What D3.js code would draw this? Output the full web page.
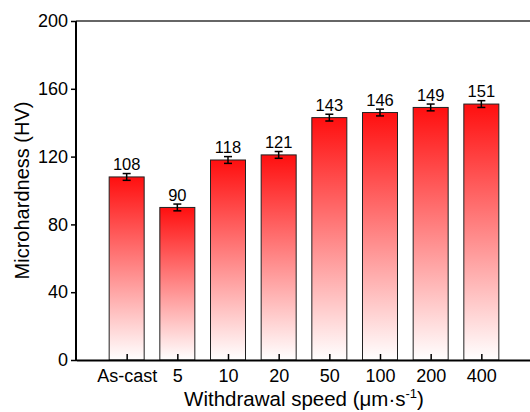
<!DOCTYPE html>
<html>
<head>
<meta charset="utf-8">
<script src="https://cdn.jsdelivr.net/npm/d3@7"></script>
<style>
	body { margin: 0; background: #fff; }
	text { font-family: "Liberation Sans", Arial, sans-serif; fill: #000; }
</style>
</head>
<body>
<script>
"use strict";

//chart data
let categories = ["As-cast", "5", "10", "20", "50", "100", "200", "400"];
let hardness = [108, 90, 118, 121, 143, 146, 149, 151];
let errors = [2, 2, 2, 2, 2, 2, 2, 2];
let y_ticks = [0, 40, 80, 120, 160, 200];

(function()
{
	let width = 530, height = 412;
	let plot_l = 76, plot_r = 532, plot_t = 21, plot_b = 360;

	let svg = d3.select("body").append("svg")
		.attr("width", width)
		.attr("height", height);

	let defs = svg.append("defs");
	let grad = defs.append("linearGradient")
		.attr("id", "bar_grad")
		.attr("x1", 0).attr("y1", 0)
		.attr("x2", 0).attr("y2", 1);
	grad.append("stop").attr("offset", "0%").attr("stop-color", "#ff0f0f");
	grad.append("stop").attr("offset", "100%").attr("stop-color", "#ffffff");

	//scales, categories sit at 1..8 on a 0..9 axis
	let x = d3.scaleLinear().domain([0, categories.length + 1]).range([plot_l, plot_r]);
	let y = d3.scaleLinear().domain([0, 200]).range([plot_b, plot_t]);
	let bar_w = 35;

	//bars
	svg.append("g").selectAll("rect")
		.data(hardness)
		.join("rect")
		.attr("x", (d, i) => x(i + 1) - bar_w / 2)
		.attr("y", d => y(d))
		.attr("width", bar_w)
		.attr("height", d => y(0) - y(d))
		.attr("fill", "url(#bar_grad)")
		.attr("stroke", "#222")
		.attr("stroke-width", 1);

	//error bars
	let err = svg.append("g")
		.attr("stroke", "#000")
		.attr("stroke-width", 1.5);
	hardness.forEach(function(d, i)
	{
		let cx = x(i + 1);
		let lo = y(d - errors[i]), hi = y(d + errors[i]);
		err.append("line").attr("x1", cx).attr("x2", cx).attr("y1", lo).attr("y2", hi);
		err.append("line").attr("x1", cx - 4).attr("x2", cx + 4).attr("y1", lo).attr("y2", lo);
		err.append("line").attr("x1", cx - 4).attr("x2", cx + 4).attr("y1", hi).attr("y2", hi);
	});

	//value labels
	svg.append("g").selectAll("text")
		.data(hardness)
		.join("text")
		.attr("x", (d, i) => x(i + 1))
		.attr("y", (d, i) => y(d + errors[i]) - 3.5)
		.attr("text-anchor", "middle")
		.attr("font-size", 16.5)
		.text(d => d);

	//top frame line
	svg.append("line")
		.attr("x1", plot_l).attr("x2", plot_r)
		.attr("y1", plot_t).attr("y2", plot_t)
		.attr("stroke", "#333")
		.attr("stroke-width", 1.5);

	//y axis
	let y_axis = svg.append("g")
		.attr("transform", "translate(" + plot_l + ",0)")
		.call(d3.axisLeft(y).tickValues(y_ticks).tickSize(5).tickPadding(3));
	y_axis.select(".domain").attr("stroke-width", 2).attr("d", "M0," + (plot_b + 1) + "V" + plot_t);
	y_axis.selectAll(".tick line").attr("stroke-width", 1.5);
	y_axis.selectAll("text").attr("font-size", 18).attr("font-family", "Liberation Sans, Arial, sans-serif");

	//x axis, ticks point inwards
	let x_axis = svg.append("g")
		.attr("transform", "translate(0," + plot_b + ")")
		.call(d3.axisBottom(x)
			.tickValues(d3.range(1, categories.length + 1))
			.tickFormat(d => categories[d - 1])
			.tickSizeInner(-6).tickSizeOuter(0).tickPadding(9));
	x_axis.select(".domain").attr("stroke-width", 2);
	x_axis.selectAll(".tick line").attr("stroke-width", 1.5);
	x_axis.selectAll("text").attr("font-size", 18).attr("font-family", "Liberation Sans, Arial, sans-serif");

	//axis titles
	svg.append("text")
		.attr("transform", "translate(29," + (plot_t + plot_b) / 2 + ") rotate(-90)")
		.attr("text-anchor", "middle")
		.attr("font-size", 20)
		.text("Microhardness (HV)");

	let x_title = svg.append("text")
		.attr("x", (plot_l + plot_r) / 2)
		.attr("y", 406)
		.attr("text-anchor", "middle")
		.attr("font-size", 20.5);
	x_title.append("tspan").text("Withdrawal speed (μm·s");
	x_title.append("tspan").attr("dy", -8).attr("font-size", 13).text("-1");
	x_title.append("tspan").attr("dy", 8).text(")");
})();
</script>
</body>
</html>
